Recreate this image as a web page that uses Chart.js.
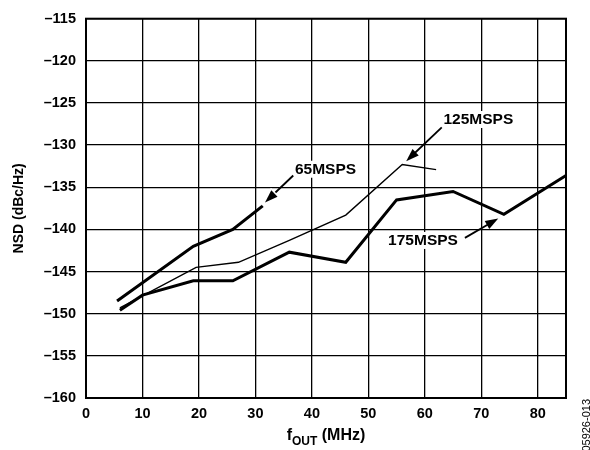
<!DOCTYPE html>
<html>
<head>
<meta charset="utf-8">
<script src="https://cdn.jsdelivr.net/npm/chart.js@4.4.1/dist/chart.umd.min.js"></script>
<style>
  html, body { margin: 0; padding: 0; background: #fff; }
  #wrap { width: 590px; height: 450px; }
</style>
</head>
<body>
<div id="wrap"><canvas id="grafica"></canvas></div>
<script>
// values (fOUT in MHz, NSD in dBc/Hz)
const fout65 = [5.5, 19, 26, 31.3]
const nsd65 = [-148.5, -142.0, -140.0, -137.2]

const fout125 = [6, 19.5, 27, 36, 46, 56, 62]
const nsd125 = [-149.3, -144.5, -143.9, -141.3, -138.3, -132.3, -132.9]

const fout175 = [6, 10, 19, 26, 36, 46, 55, 65, 74, 85]
const nsd175 = [-149.6, -147.8, -146.1, -146.1, -142.7, -143.9, -136.5, -135.5, -138.2, -133.6]

const xTicks = [0, 10, 20, 30, 40, 50, 60, 70, 80]

// label text, where the text starts, arrow tail and arrow tip (data units)
const notes = [
  { text: '65MSPS', x: 37.0, y: -132.8, tail: [36.7, -133.6], tip: [31.7, -136.8], halo: true },
  { text: '125MSPS', x: 63.3, y: -126.9, tail: [63.0, -127.9], tip: [56.7, -131.9] },
  { text: '175MSPS', x: 53.5, y: -141.25, tail: [67.1, -141.0], tip: [73.0, -138.7] }
]

const FONT = "'Liberation Sans', Arial, Helvetica, sans-serif"

function pts(xs, ys) {
  let out = []
  xs.forEach((x, i) => out.push({ x: x, y: ys[i] }))
  return out
}

function drawArrow(c, x1, y1, x2, y2, halo) {
  const a = Math.atan2(y2 - y1, x2 - x1)
  const len = 13, w = 4.5
  c.lineWidth = 1.8
  c.beginPath()
  c.moveTo(x1, y1)
  c.lineTo(x2 - Math.cos(a) * len * 0.8, y2 - Math.sin(a) * len * 0.8)
  c.stroke()
  c.beginPath()
  c.moveTo(x2, y2)
  c.lineTo(x2 - len * Math.cos(a) + w * Math.sin(a), y2 - len * Math.sin(a) - w * Math.cos(a))
  c.lineTo(x2 - len * Math.cos(a) - w * Math.sin(a), y2 - len * Math.sin(a) + w * Math.cos(a))
  c.closePath()
  if (halo) {
    // small white gap where the tip meets the 65MSPS line
    c.save()
    c.strokeStyle = '#fff'
    c.lineWidth = 3
    c.stroke()
    c.restore()
  }
  c.fill()
}

const extras = {
  id: 'extras',
  afterDatasetsDraw(chart) {
    const c = chart.ctx
    const xs = chart.scales.x, ys = chart.scales.y
    const area = chart.chartArea
    c.save()
    c.fillStyle = '#000'
    c.strokeStyle = '#000'
    c.font = 'bold 15.5px ' + FONT
    c.textBaseline = 'middle'
    c.textAlign = 'left'
    notes.forEach(n => {
      const px = xs.getPixelForValue(n.x)
      const py = ys.getPixelForValue(n.y)
      const w = c.measureText(n.text).width
      c.fillStyle = '#fff'
      c.fillRect(px - 3, py - 8, w + 6, 17)
      c.fillStyle = '#000'
      c.fillText(n.text, px, py + 1)
      drawArrow(c, xs.getPixelForValue(n.tail[0]), ys.getPixelForValue(n.tail[1]),
        xs.getPixelForValue(n.tip[0]), ys.getPixelForValue(n.tip[1]), n.halo)
    })

    // plot frame
    c.lineWidth = 2
    c.strokeRect(area.left, area.top, area.right - area.left, area.bottom - area.top)

    // x axis title with subscript
    const cx = (area.left + area.right) / 2
    const base = 440
    c.textBaseline = 'alphabetic'
    c.font = 'bold 16px ' + FONT
    const wf = c.measureText('f').width
    const wm = c.measureText(' (MHz)').width
    c.font = 'bold 12px ' + FONT
    const ws = c.measureText('OUT').width
    let x0 = cx - (wf + ws + wm) / 2
    c.font = 'bold 16px ' + FONT
    c.fillText('f', x0, base)
    c.font = 'bold 12px ' + FONT
    c.fillText('OUT', x0 + wf, base + 5)
    c.font = 'bold 16px ' + FONT
    c.fillText(' (MHz)', x0 + wf + ws, base)

    // figure code on the right edge
    c.save()
    c.translate(587, 399)
    c.rotate(-Math.PI / 2)
    c.font = '11px ' + FONT
    c.textAlign = 'right'
    c.textBaseline = 'middle'
    c.fillText('05926-013', 0, 0)
    c.restore()
    c.restore()
  }
}

const ctx = document.getElementById('grafica')

new Chart(ctx, {
  type: 'line',
  data: {
    datasets: [
      { label: '65MSPS', data: pts(fout65, nsd65), borderColor: '#000', borderWidth: 3, pointRadius: 0, tension: 0 },
      { label: '125MSPS', data: pts(fout125, nsd125), borderColor: '#000', borderWidth: 1.4, pointRadius: 0, tension: 0 },
      { label: '175MSPS', data: pts(fout175, nsd175), borderColor: '#000', borderWidth: 3, pointRadius: 0, tension: 0 }
    ]
  },
  options: {
    responsive: true,
    maintainAspectRatio: false,
    animation: false,
    layout: { padding: { left: 0, top: 14, right: 24, bottom: 0 } },
    plugins: {
      legend: { display: false },
      tooltip: { enabled: false }
    },
    scales: {
      x: {
        type: 'linear',
        min: 0,
        max: 85,
        afterBuildTicks: scale => { scale.ticks = xTicks.concat([85]).map(v => ({ value: v })) },
        afterFit: scale => { scale.height = 52 },
        grid: { color: '#000', lineWidth: 1.3, drawTicks: false },
        border: { display: false },
        ticks: {
          autoSkip: false,
          maxRotation: 0,
          padding: 7,
          color: '#000',
          font: { family: FONT, size: 14.5, weight: 'bold' },
          callback: v => (xTicks.includes(v) ? String(v) : null)
        }
      },
      y: {
        min: -160,
        max: -115,
        afterFit: scale => { scale.width = 86 },
        grid: { color: '#000', lineWidth: 1.3, drawTicks: false },
        border: { display: false },
        ticks: {
          stepSize: 5,
          padding: 10,
          color: '#000',
          font: { family: FONT, size: 14.5, weight: 'bold' },
          callback: v => (v < 0 ? '\u2013' + Math.abs(v) : String(v))
        },
        title: {
          display: true,
          text: 'NSD (dBc/Hz)',
          color: '#000',
          padding: { top: 11, bottom: 0 },
          font: { family: FONT, size: 14, weight: 'bold' }
        }
      }
    }
  },
  plugins: [extras]
})
</script>
</body>
</html>
